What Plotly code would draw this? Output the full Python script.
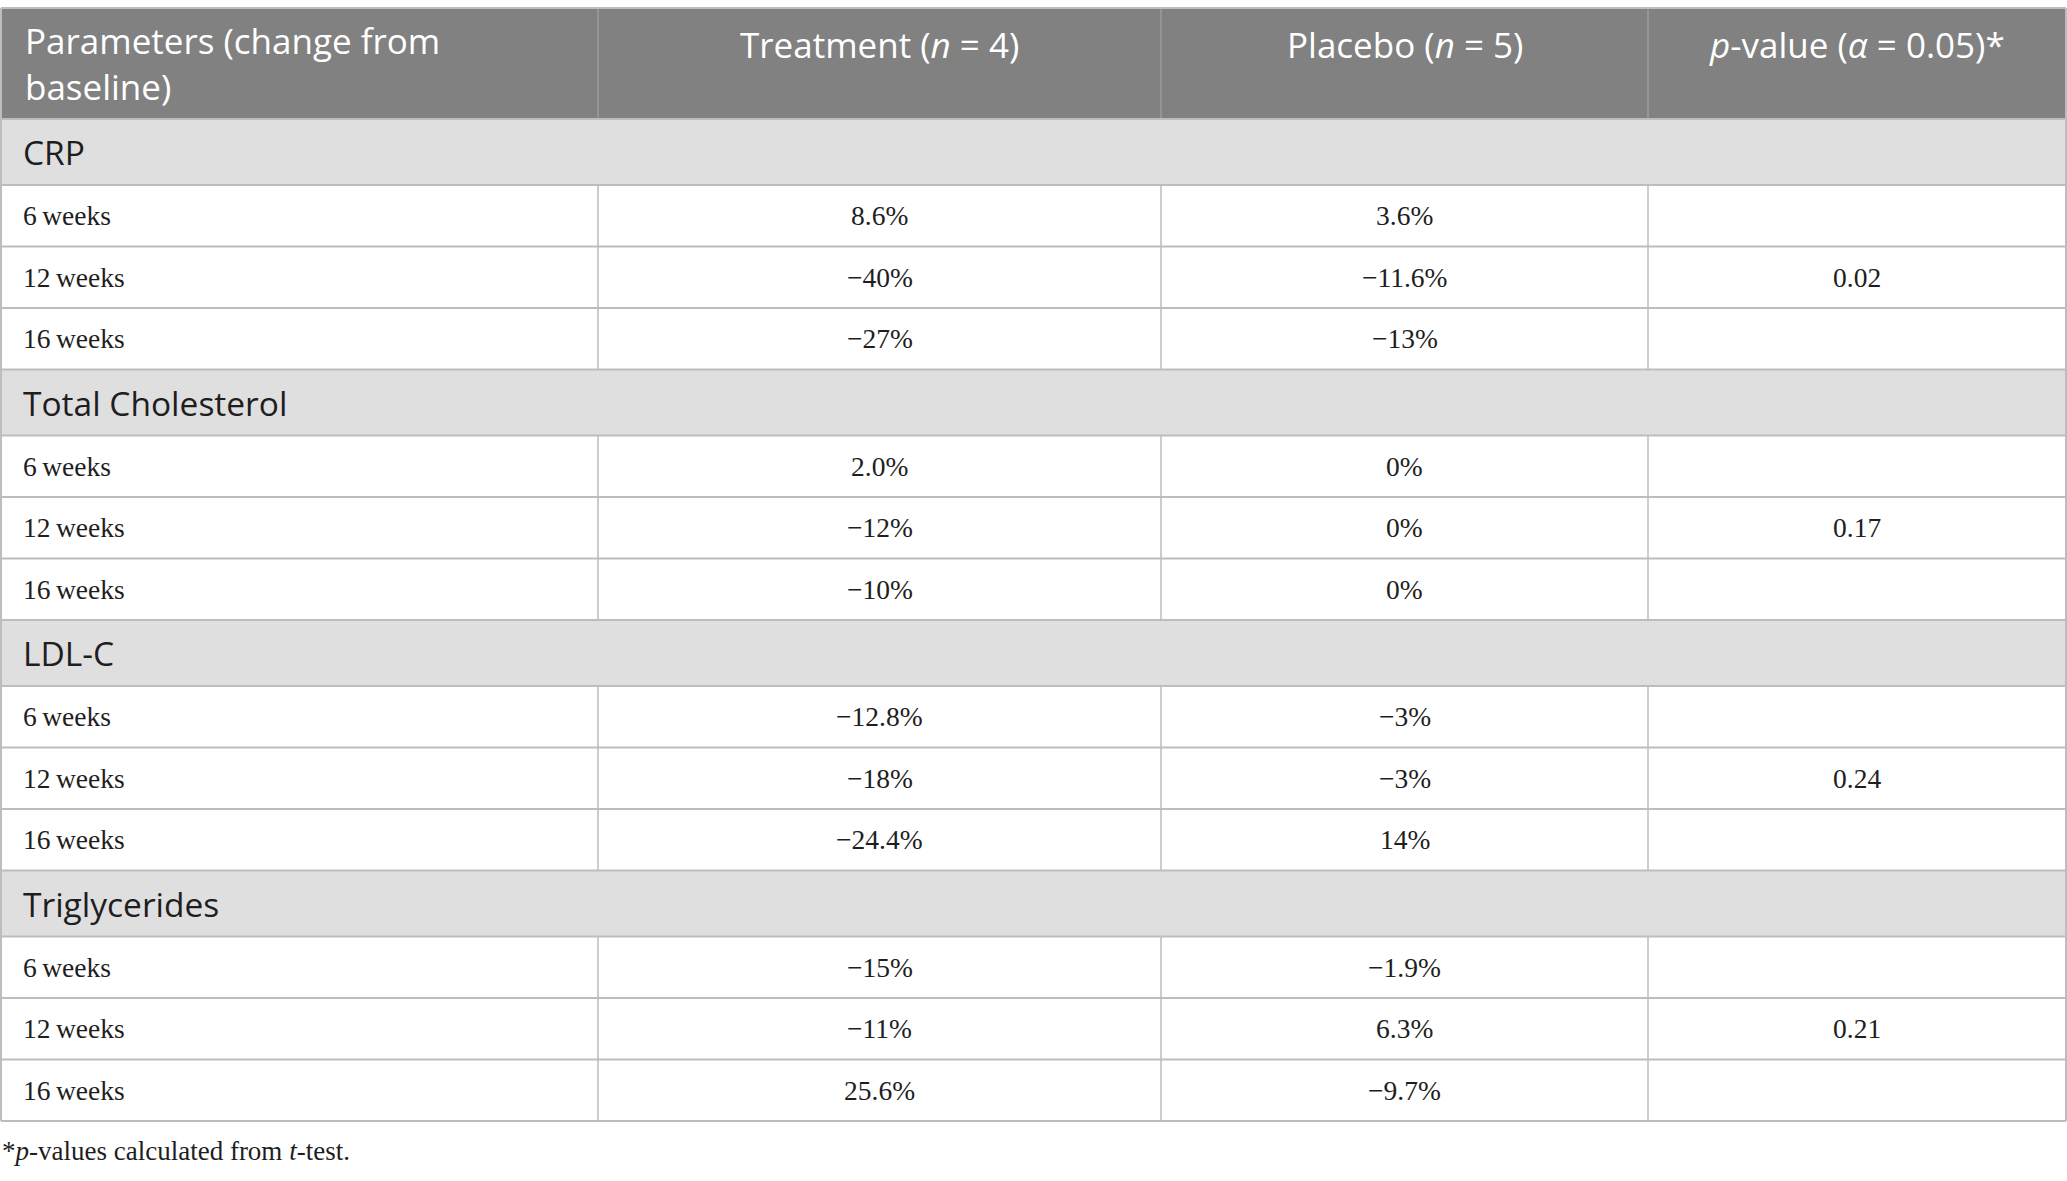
import plotly.graph_objects as go

# Table content
header_first = "Parameters (change from<br>baseline)"
header_labels = ["Treatment (<i>n</i> = 4)", "Placebo (<i>n</i> = 5)",
                 "<i>p</i>-value (<i>α</i> = 0.05)*"]
sections = ["CRP", "Total Cholesterol", "LDL-C", "Triglycerides"]
timepoints = ["6\u2009weeks", "12\u2009weeks", "16\u2009weeks"]
treatment = [["8.6%", "−40%", "−27%"],
             ["2.0%", "−12%", "−10%"],
             ["−12.8%", "−18%", "−24.4%"],
             ["−15%", "−11%", "25.6%"]]
placebo = [["3.6%", "−11.6%", "−13%"],
           ["0%", "0%", "0%"],
           ["−3%", "−3%", "14%"],
           ["−1.9%", "6.3%", "−9.7%"]]
p_values = ["0.02", "0.17", "0.24", "0.21"]
footnote = "*<i>p</i>-values calculated from <i>t</i>-test."

# Layout geometry (pixels)
W, H = 2067, 1181
col_widths = [597, 563, 487, 418]
x_left = 1
top = 8
header_h = 111
section_h = 66
data_h = 61.5

header_fill = "#808180"
section_fill = "#e0dfe0"
grid_color = "#bdbdbd"
text_color = "#1e1e1e"
sans = "Open Sans"
serif = "Liberation Serif"

col_edges = [x_left]
for w in col_widths:
    col_edges.append(col_edges[-1] + w)
col_centers = [(col_edges[i] + col_edges[i + 1]) / 2 for i in range(len(col_widths))]
x_right = col_edges[-1]

fig = go.Figure()
shapes = []
annotations = []


def hline(y):
    shapes.append(dict(type="line", xref="x", yref="y", x0=x_left, x1=x_right, y0=y, y1=y,
                       line=dict(color=grid_color, width=2), layer="above"))


def vlines(y0, y1, color=grid_color):
    for x in col_edges[1:-1]:
        shapes.append(dict(type="line", xref="x", yref="y", x0=x, x1=x, y0=y0, y1=y1,
                           line=dict(color=color, width=1.5), layer="above"))


def text(x, y, s, font, size, color=text_color, anchor="center", yanchor="middle"):
    annotations.append(dict(x=x, y=y, xref="x", yref="y", text=s, showarrow=False,
                            xanchor=anchor, yanchor=yanchor, align=anchor if anchor != "center" else "center",
                            font=dict(family=font, size=size, color=color)))


# header
y = top
shapes.append(dict(type="rect", xref="x", yref="y", x0=x_left, x1=x_right, y0=y, y1=y + header_h,
                   fillcolor=header_fill, line=dict(width=0), layer="below"))
vlines(y, y + header_h, color="#9c9d9c")
text(col_edges[0] + 22, y + 55, header_first, sans, 35, "white", anchor="left")
for i, lab in enumerate(header_labels, start=1):
    text(col_centers[i], y + 36, lab, sans, 35, "white")
hline(y)
y += header_h

# sections
for s, name in enumerate(sections):
    hline(y)
    shapes.append(dict(type="rect", xref="x", yref="y", x0=x_left, x1=x_right, y0=y, y1=y + section_h,
                       fillcolor=section_fill, line=dict(width=0), layer="below"))
    text(col_edges[0] + 20, y + section_h / 2, name, sans, 33.5, anchor="left")
    y += section_h
    for r, tp in enumerate(timepoints):
        hline(y)
        vlines(y, y + data_h)
        cy = y + data_h / 2
        text(col_edges[0] + 20, cy, tp, serif, 27.5, anchor="left")
        text(col_centers[1], cy, treatment[s][r], serif, 27.5)
        text(col_centers[2], cy, placebo[s][r], serif, 27.5)
        if r == 1:
            text(col_centers[3], cy, p_values[s], serif, 27.5)
        y += data_h
hline(y)

# outer side borders
shapes.append(dict(type="line", xref="x", yref="y", x0=x_left, x1=x_left, y0=top, y1=y,
                   line=dict(color=grid_color, width=2), layer="above"))
shapes.append(dict(type="line", xref="x", yref="y", x0=x_right, x1=x_right, y0=top, y1=y,
                   line=dict(color=grid_color, width=2), layer="above"))

text(0, y + 30, footnote, serif, 27, anchor="left")

fig.update_layout(
    width=W, height=H,
    margin=dict(l=0, r=0, t=0, b=0),
    paper_bgcolor="white", plot_bgcolor="white",
    xaxis=dict(range=[0, W], visible=False, fixedrange=True),
    yaxis=dict(range=[H, 0], visible=False, fixedrange=True),
    shapes=shapes, annotations=annotations,
    showlegend=False,
)

# the page body has a default 8px margin; drop it so the table fills the window
fig.write_html("out.html", config={"displayModeBar": False},
               post_script="document.body.style.margin='0px';")
